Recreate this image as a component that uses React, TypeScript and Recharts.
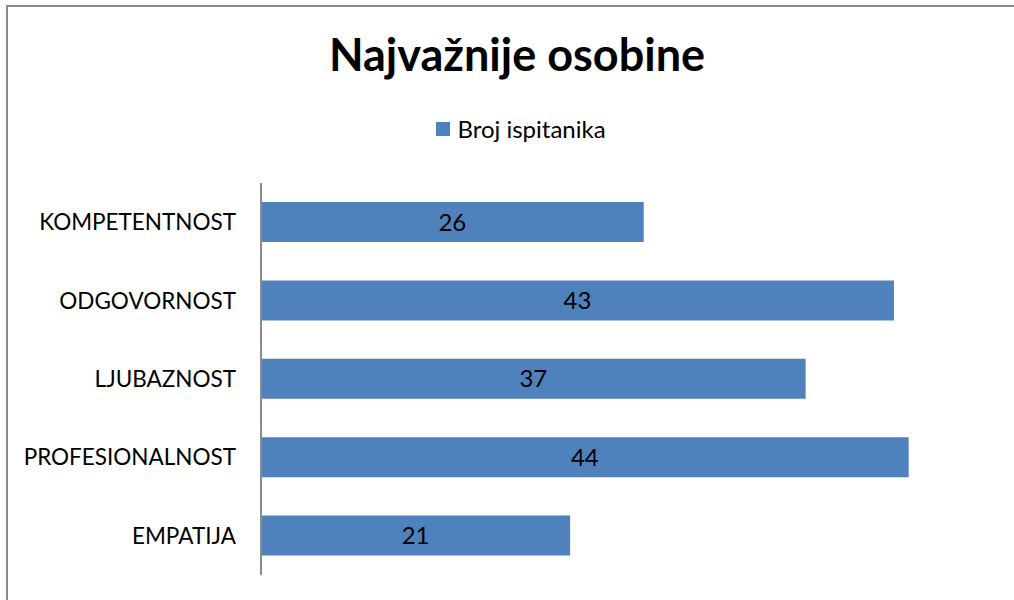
import React from 'react';
import { BarChart, Bar, XAxis, YAxis, Legend, LabelList } from 'recharts';

const categories = ['KOMPETENTNOST', 'ODGOVORNOST', 'LJUBAZNOST', 'PROFESIONALNOST', 'EMPATIJA'];
const respondents = [26, 43, 37, 44, 21];
const seriesName = 'Broj ispitanika';
const chartTitle = 'Najvažnije osobine';

const data = categories.map((name, i) => ({ name, value: respondents[i] }));

const BAR_COLOR = '#4F81BD';
const FONT = 'Lato, "Open Sans", sans-serif';

const LegendContent: React.FC = () => (
  <div
    style={{
      display: 'flex',
      justifyContent: 'center',
      alignItems: 'center',
      paddingLeft: 28,
      fontFamily: FONT,
      fontSize: 24,
      color: '#000',
    }}
  >
    <span
      style={{ display: 'inline-block', width: 14, height: 14, background: BAR_COLOR, marginRight: 7 }}
    ></span>
    <span>{seriesName}</span>
  </div>
);

export default function App() {
  return (
    <div style={{ position: 'absolute', left: 0, top: 0, width: 1014, height: 600, background: '#fff' }}>
      <div
        style={{
          position: 'absolute',
          left: 6,
          top: 5,
          right: 0,
          bottom: 0,
          borderLeft: '2px solid #8a8a8a',
          borderTop: '2px solid #8a8a8a',
        }}
      />
      <div
        style={{
          position: 'absolute',
          left: 0,
          top: 32,
          width: 1014,
          paddingLeft: 20,
          boxSizing: 'border-box',
          textAlign: 'center',
          fontFamily: FONT,
          fontWeight: 700,
          fontSize: 45,
          lineHeight: '45px',
          color: '#000',
        }}
      >
        {chartTitle}
      </div>
      <BarChart
        width={1014}
        height={600}
        data={data}
        layout="vertical"
        margin={{ top: 183, right: 17, bottom: 25, left: 0 }}
      >
        <XAxis type="number" domain={[0, 50]} hide />
        <YAxis
          type="category"
          dataKey="name"
          width={261}
          axisLine={{ stroke: '#8c8c8c', strokeWidth: 2 }}
          tickLine={false}
          tickSize={0}
          tickMargin={25}
          tick={{ fill: '#000', fontSize: 22.5, fontFamily: FONT }}
        />
        <Legend
          verticalAlign="middle"
          align="center"
          content={<LegendContent />}
          wrapperStyle={{ top: 114, left: 0, width: 1014 }}
        />
        <Bar dataKey="value" name={seriesName} fill={BAR_COLOR} barSize={40} isAnimationActive={false}>
          <LabelList
            dataKey="value"
            position="center"
            fill="#000"
            style={{ fontSize: 24, fontFamily: FONT }}
          />
        </Bar>
      </BarChart>
    </div>
  );
}
